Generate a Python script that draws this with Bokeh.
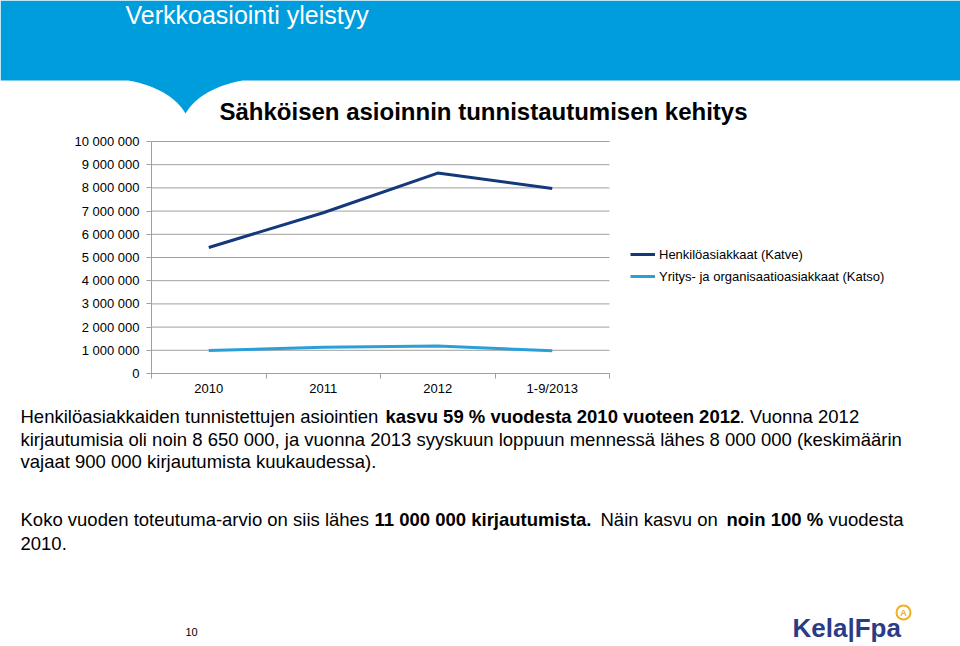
import numpy as np
from bokeh.plotting import figure
from bokeh.models import (Range1d, FixedTicker, Legend, LegendItem, ColumnDataSource,
                          LinearAxis)
from bokeh.embed import file_html
from bokeh.resources import INLINE
from bokeh.core.properties import value

# ---------------- data ----------------
categories = ["2010", "2011", "2012", "1-9/2013"]
katve = [5430000, 6930000, 8640000, 7970000]
katso = [990000, 1130000, 1190000, 980000]
series_names = ["Henkilöasiakkaat (Katve)", "Yritys- ja organisaatioasiakkaat (Katso)"]
y_ticks = [0, 1000000, 2000000, 3000000, 4000000, 5000000,
           6000000, 7000000, 8000000, 9000000, 10000000]
y_tick_labels = ["0", "1 000 000", "2 000 000", "3 000 000", "4 000 000", "5 000 000",
                 "6 000 000", "7 000 000", "8 000 000", "9 000 000", "10 000 000"]

slide_title = "Verkkoasiointi yleistyy"
chart_title = "Sähköisen asioinnin tunnistautumisen kehitys"

# text segments: (line, x, text, bold)
segments = [
    (0, 20, "Henkilöasiakkaiden tunnistettujen asiointien", False),
    (0, 385, "kasvu 59 % vuodesta 2010 vuoteen 2012", True),
    (0, 739, ". Vuonna 2012", False),
    (1, 20, "kirjautumisia oli noin 8 650 000, ja vuonna 2013 syyskuun loppuun mennessä lähes 8 000 000 (keskimäärin", False),
    (2, 20, "vajaat 900 000 kirjautumista kuukaudessa).", False),
    (3, 20, "Koko vuoden toteutuma-arvio on siis lähes", False),
    (3, 374, "11 000 000 kirjautumista.", True),
    (3, 600, "Näin kasvu on", False),
    (3, 726, "noin 100 %", True),
    (3, 828, "vuodesta", False),
    (4, 20, "2010.", False),
]
line_centers = [416, 438.5, 461, 519, 543]

# ---------------- style / layout (pixels) ----------------
FONT = "Liberation Sans"
BLUE = "#009DDC"
DARK = "#13387C"
LIGHT = "#2BA0D8"
GRAY = "#A0A0A0"
W, H = 960, 646
PL, PR, PT, PB = 151, 609, 141, 373   # plot area edges
YMAX = 10000000
n = len(categories)

p = figure(width=W, height=H, x_range=Range1d(0, W), y_range=Range1d(H, 0),
           toolbar_location=None, output_backend="svg", min_border=0,
           x_axis_location=None, y_axis_location=None)
p.grid.visible = False
p.outline_line_color = None
p.background_fill_color = "white"
p.border_fill_color = "white"

# extra ranges so that the chart's data are mapped by Bokeh's scales
sx = n / (PR - PL)
sy = YMAX / (PB - PT)
p.extra_x_ranges = {"cat": Range1d(-PL * sx, n + (W - PR) * sx)}
p.extra_y_ranges = {"val": Range1d(-(H - PB) * sy, YMAX + PT * sy)}

# ---------------- header ----------------
t = np.linspace(0, 1, 40)


def qb(p0, p1, p2):
    x = (1 - t) ** 2 * p0[0] + 2 * (1 - t) * t * p1[0] + t ** 2 * p2[0]
    y = (1 - t) ** 2 * p0[1] + 2 * (1 - t) * t * p1[1] + t ** 2 * p2[1]
    return list(x), list(y)


lx, ly = qb((128, 80), (170, 88), (185, 113))
rx, ry = qb((185, 113), (200, 88), (242, 80))
px = [0, W, W] + rx[::-1] + lx[::-1] + [0]
py = [0, 0, 80] + ry[::-1] + ly[::-1] + [80]
p.patch(px, py, fill_color=BLUE, line_color=None)
p.text(x=[125], y=[14], text=[slide_title], text_color="white",
       text_font=value(FONT), text_font_size=value("25px"), text_baseline="middle")
p.text(x=[483], y=[111], text=[chart_title], text_color="black", text_align="center",
       text_font=value(FONT), text_font_size=value("24px"), text_font_style="bold",
       text_baseline="middle")

# ---------------- chart ----------------
p.segment(x0=[0] * len(y_ticks), x1=[n] * len(y_ticks), y0=y_ticks, y1=y_ticks,
          line_color=GRAY, line_width=1, x_range_name="cat", y_range_name="val")

xpos = [i + 0.5 for i in range(n)]
xt = FixedTicker(ticks=xpos, minor_ticks=list(range(n + 1)))
xaxis = LinearAxis(x_range_name="cat", y_range_name="val", fixed_location=0,
                   bounds=(0, n), ticker=xt,
                   major_label_overrides={x: c for x, c in zip(xpos, categories)},
                   major_tick_line_color=None, major_tick_out=5, major_tick_in=0,
                   minor_tick_line_color=GRAY, minor_tick_out=5, minor_tick_in=0,
                   major_label_standoff=2, axis_line_color=GRAY,
                   major_label_text_font=FONT, major_label_text_font_size="13px",
                   major_label_text_color="black")
p.add_layout(xaxis, "below")

yt = FixedTicker(ticks=y_ticks, minor_ticks=[])
yaxis = LinearAxis(x_range_name="cat", y_range_name="val", fixed_location=0,
                   bounds=(0, YMAX), ticker=yt,
                   major_label_overrides=dict(zip(y_ticks, y_tick_labels)),
                   major_tick_line_color=GRAY, major_tick_out=5, major_tick_in=0,
                   minor_tick_line_color=None, major_label_standoff=7,
                   axis_line_color=GRAY, major_label_text_font=FONT,
                   major_label_text_font_size="13px", major_label_text_color="black")
p.add_layout(yaxis, "left")

r1 = p.line(xpos, katve, line_color=DARK, line_width=3, x_range_name="cat", y_range_name="val")
r2 = p.line(xpos, katso, line_color=LIGHT, line_width=3, x_range_name="cat", y_range_name="val")

legend = Legend(items=[LegendItem(label=series_names[0], renderers=[r1]),
                       LegendItem(label=series_names[1], renderers=[r2])],
                location=(630, 361), orientation="vertical", padding=0, margin=0,
                spacing=4, glyph_width=25, glyph_height=18, label_height=18,
                label_standoff=4, label_text_font=FONT, label_text_font_size="13px",
                label_text_color="black",
                border_line_color=None, background_fill_alpha=0)
p.add_layout(legend)

# ---------------- body text ----------------
for bold in (False, True):
    segs = [s for s in segments if s[3] == bold]
    src = ColumnDataSource(dict(x=[s[1] for s in segs],
                                y=[line_centers[s[0]] for s in segs],
                                text=[s[2] for s in segs]))
    p.text(x="x", y="y", text="text", source=src, text_color="black",
           text_font=value(FONT), text_font_size=value("18.5px"),
           text_font_style="bold" if bold else "normal",
           text_baseline="middle", text_align="left")

p.text(x=[185], y=[631], text=["10"], text_color="black", text_font=value(FONT),
       text_font_size=value("11px"), text_baseline="middle")
p.text(x=[792], y=[627], text=["Kela|Fpa"], text_color="#2C3B85", text_font=value(FONT),
       text_font_size=value("26px"), text_font_style="bold", text_baseline="middle")
p.scatter(x=[903], y=[612], marker="circle", size=14, fill_color="white",
          line_color="#F0B020", line_width=2)
p.text(x=[903], y=[612], text=["A"], text_color="#F0B020", text_font=value(FONT),
       text_font_size=value("9px"), text_font_style="bold", text_align="center",
       text_baseline="middle")

open("out.html", "w").write(file_html(p, INLINE))
